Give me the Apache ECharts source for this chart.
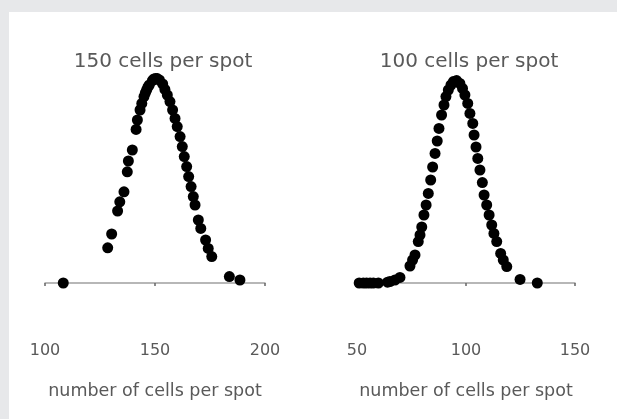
<!DOCTYPE html>
<html>
<head>
<meta charset="utf-8">
<script src="https://cdn.jsdelivr.net/npm/echarts@6/dist/echarts.min.js"></script>
<style>
html,body{margin:0;padding:0;background:#e7e8ea;width:617px;height:419px;overflow:hidden;}
#panel{position:absolute;left:9px;top:12px;right:0;bottom:0;background:#fff;}
#chart{position:absolute;left:0;top:0;width:617px;height:419px;}
</style>
</head>
<body>
<div id="panel"></div>
<div id="chart"></div>
<script>
// Panel titles
const titles = ['150 cells per spot', '100 cells per spot'];
const axisName = 'number of cells per spot';
// Axis ranges / ticks
const leftTicks = [100, 150, 200];
const rightTicks = [50, 100, 150];

// Left panel: [cells per spot, relative frequency]
const left150 = [
  [108.3,0],[128.5,17.6],[130.3,24.5],[133,36],[134,40.6],[135.9,45.6],
  [137.4,55.6],[137.9,61],[139.7,66.5],[141.4,76.8],[142,81.5],[143.2,86.5],
  [144,89.8],[145,93.2],[145.6,95],[146.2,96.5],[146.8,98],[147.4,99],[148.8,101.2],
  [149.5,102],[150.3,102.3],[151,102.2],[152,101.5],[153.5,99.5],[154.5,96.8],
  [155.6,94],[156.8,90.7],[158,86.5],[159.1,82.3],[160.1,78.2],[161.4,73.2],
  [162.4,68.2],[163.3,63.2],[164.4,58.2],[165.3,53.2],[166.4,48.2],[167.4,43.2],
  [168.2,39],[169.7,31.5],[170.8,27.3],[173,21.5],[174.2,17.3],[175.8,13.2],
  [183.8,3.2],[188.6,1.5]
];
// Right panel
const right100 = [
  [51,0],[52.9,0],[54.4,0],[56,0],[57.5,0],[59.8,0],[64,0.4],[65.1,0.7],[67.4,1.5],[69.7,2.8],
  [74.3,8.5],[75.5,11.5],[76.6,14],[78.1,20.7],[78.9,24],[79.7,28],[80.7,34],
  [81.7,39],[82.7,44.8],[83.8,51.5],[84.7,58],[85.8,64.8],[86.8,71],[87.6,77.3],
  [88.8,84],[89.9,89],[90.8,93.2],[91.9,96.5],[93.1,99],[94.2,100.7],[95.7,101.2],
  [97.2,99.8],[98.4,97.3],[99.5,94],[100.8,89.8],[101.8,84.8],[103.1,79.8],
  [103.7,74],[104.6,68],[105.4,62.3],[106.4,56.5],[107.5,50.2],[108.3,44],
  [109.5,39],[110.6,34],[111.8,29],[112.8,24.8],[114.1,20.7],[115.9,14.8],
  [117.1,11.5],[118.7,8.2],[124.8,1.8],[132.7,0]
];

const FONT = '"DejaVu Sans", sans-serif';
const TXT = '#595959';

function xAx(idx, ticks) {
  return {
    gridIndex: idx, type: 'value',
    min: ticks[0], max: ticks[ticks.length-1], interval: ticks[1]-ticks[0],
    name: axisName, nameLocation: 'middle', nameGap: 99,
    nameTextStyle: {color: TXT, fontFamily: FONT, fontSize: 17.5},
    axisLine: {show: true, onZero: false, lineStyle: {color: '#a0a0a0', width: 1.5}},
    axisTick: {show: true, length: 3, lineStyle: {color: '#666', width: 1.5}},
    axisLabel: {show: true, margin: 60, color: TXT, fontFamily: FONT, fontSize: 16},
    splitLine: {show: false}
  };
}
function yAx(idx) {
  return {gridIndex: idx, type: 'value', min: 0, max: 100, show: false,
    axisLine:{show:false}, splitLine:{show:false}};
}

const chart = echarts.init(document.getElementById('chart'), null, {renderer: 'canvas'});
chart.setOption({
  animation: false,
  backgroundColor: 'transparent',
  title: [
    {text: titles[0], left: 158, top: 47, textAlign: 'center',
     textStyle: {color: TXT, fontFamily: FONT, fontSize: 20, fontWeight: 'normal'}},
    {text: titles[1], left: 464, top: 47, textAlign: 'center',
     textStyle: {color: TXT, fontFamily: FONT, fontSize: 20, fontWeight: 'normal'}}
  ],
  grid: [
    {left: 45, right: 352, top: 83, bottom: 136},
    {left: 357, right: 42, top: 83, bottom: 136}
  ],
  xAxis: [xAx(0, leftTicks), xAx(1, rightTicks)],
  yAxis: [yAx(0), yAx(1)],
  series: [
    {type: 'scatter', xAxisIndex: 0, yAxisIndex: 0, data: left150,
     symbol: 'circle', symbolSize: 11, itemStyle: {color: '#000', opacity: 1}, clip: false},
    {type: 'scatter', xAxisIndex: 1, yAxisIndex: 1, data: right100,
     symbol: 'circle', symbolSize: 11, itemStyle: {color: '#000', opacity: 1}, clip: false}
  ]
});
</script>
</body>
</html>
